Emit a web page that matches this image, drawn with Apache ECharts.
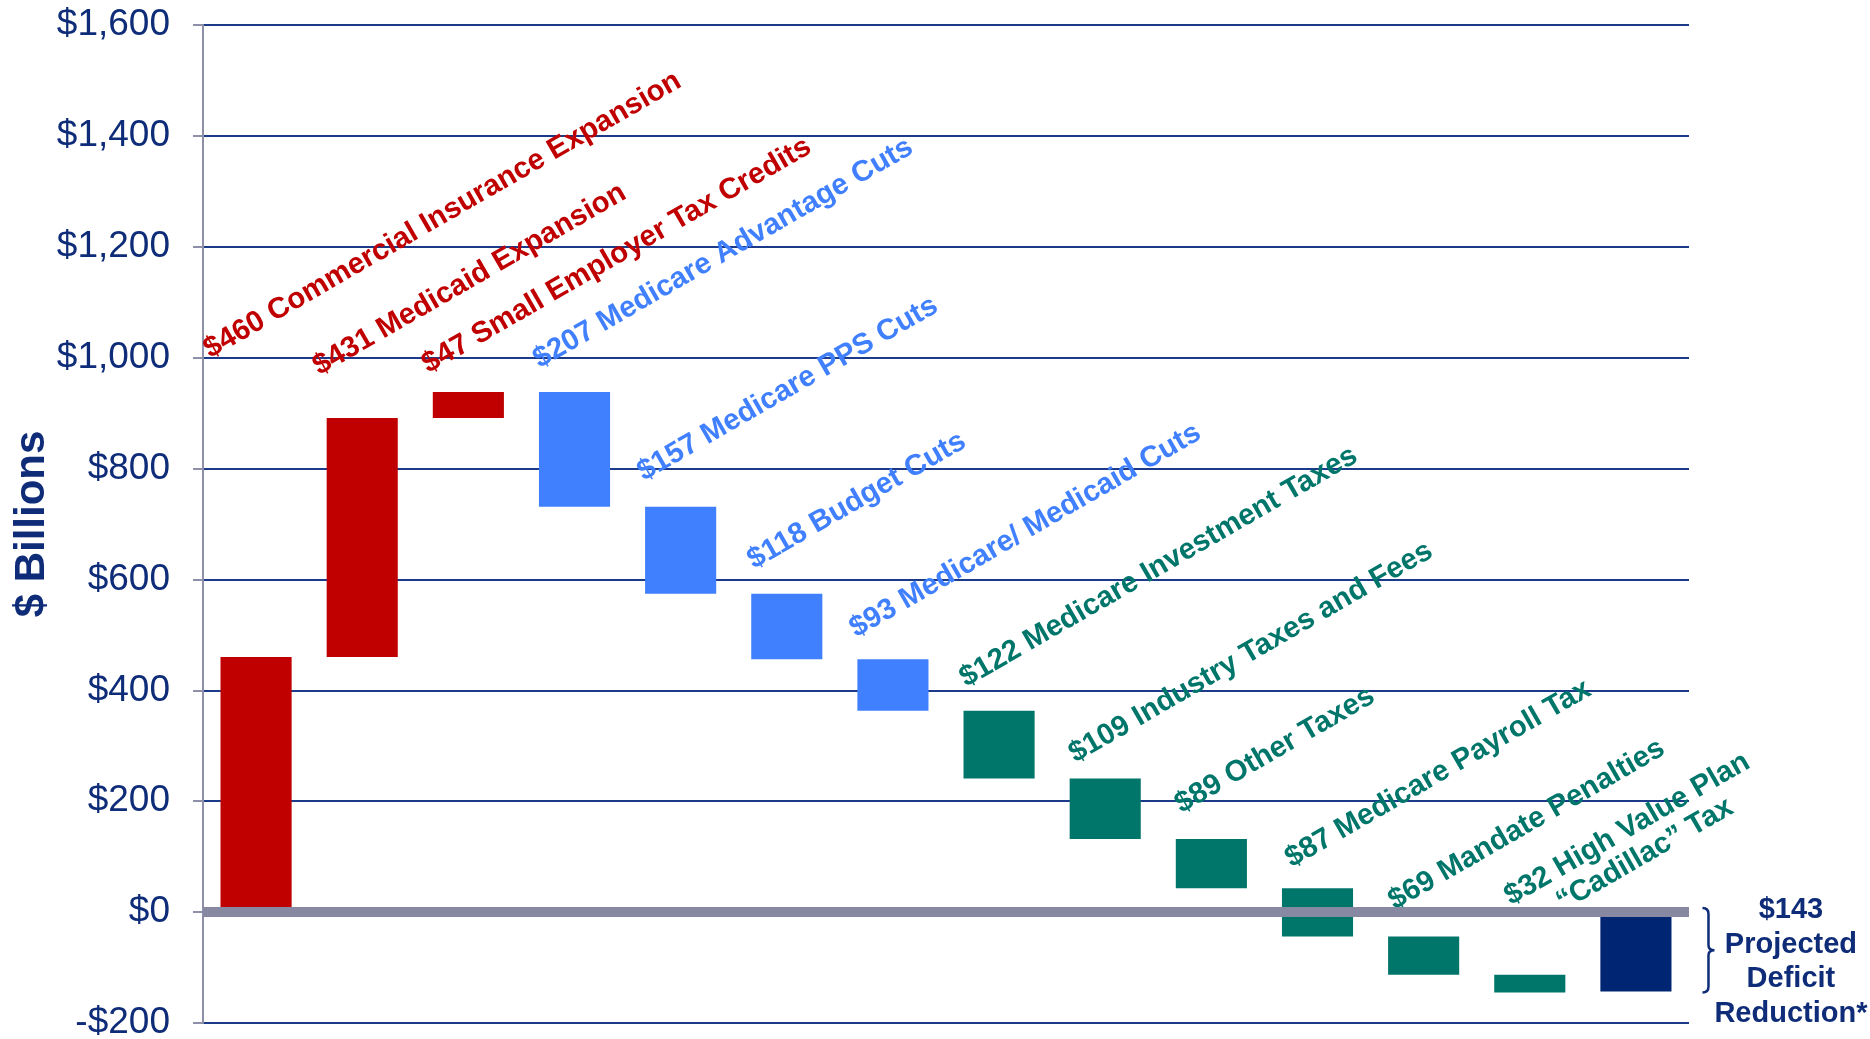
<!DOCTYPE html>
<html>
<head>
<meta charset="utf-8">
<script src="https://cdn.jsdelivr.net/npm/echarts@6/dist/echarts.min.js"></script>
<style>
html,body{margin:0;padding:0;background:#ffffff;}
#chart{width:1870px;height:1039px;}
</style>
</head>
<body>
<div id="chart"></div>
<script>
// ---------------- data ----------------
const categories = [
  'Commercial Insurance Expansion',
  'Medicaid Expansion',
  'Small Employer Tax Credits',
  'Medicare Advantage Cuts',
  'Medicare PPS Cuts',
  'Budget Cuts',
  'Medicare/ Medicaid Cuts',
  'Medicare Investment Taxes',
  'Industry Taxes and Fees',
  'Other Taxes',
  'Medicare Payroll Tax',
  'Mandate Penalties',
  'High Value Plan\n\u201cCadillac\u201d Tax'
];
const changes = [460, 431, 47, -207, -157, -118, -93, -122, -109, -89, -87, -69, -32];
const groups = ['spending', 'spending', 'spending',
                'cuts', 'cuts', 'cuts', 'cuts',
                'taxes', 'taxes', 'taxes', 'taxes', 'taxes', 'taxes'];
const totalLabel = ['Projected', 'Deficit', 'Reduction*'];
const totalValue = -143;
const yTicks = [-200, 0, 200, 400, 600, 800, 1000, 1200, 1400, 1600];

// ---------------- styles ----------------
const groupColors = {spending: '#C00000', cuts: '#4080FF', taxes: '#00766B', total: '#002673'};
const navyText = '#0E2C78';
const FONT = '"Liberation Sans", Arial, Helvetica, sans-serif';
const LABEL_FONT = 'bold 29.4px ' + FONT;
// pixel nudges of each rotated label from its bar's top-left corner
const labelNudge = [[-7, -293], [-4, -37], [-1, -13], [4, -18], [2, -20], [6, -19],
                    [2, -16], [6, -18], [9, -10], [9, -20], [13, -15], [10, -21], [36, -36]];
const labelAngle = 30 * Math.PI / 180;

// ---------------- build rows ----------------
const rows = [];
let running = 0;
changes.forEach((c, i) => {
  const next = running + c;
  rows.push([i, Math.min(running, next), Math.max(running, next), c]);
  running = next;
});
rows.push([changes.length, Math.min(0, totalValue), Math.max(0, totalValue), totalValue]);
const xCats = categories.concat([totalLabel.join(' ')]);

function fmtMoney(v) {
  const s = '$' + Math.abs(v).toLocaleString('en-US');
  return v < 0 ? '-' + s : s;
}

function renderItem(params, api) {
  const i = api.value(0);
  const lo = api.value(1);
  const hi = api.value(2);
  const pTop = api.coord([i, hi]);
  const pBot = api.coord([i, lo]);
  const bw = api.size([1, 0])[0] * 0.67;
  const x = pTop[0] - bw / 2;
  const isTotal = i === changes.length;
  const color = isTotal ? groupColors.total : groupColors[groups[i]];
  const children = [{
    type: 'rect',
    shape: {x: x, y: pTop[1], width: bw, height: pBot[1] - pTop[1]},
    style: {fill: color}
  }];
  if (!isTotal) {
    const nudge = labelNudge[i];
    const lines = categories[i].split('\n');
    const amount = '$' + Math.abs(changes[i]) + ' ';
    let textStyle;
    if (lines.length > 1) {
      textStyle = {
        text: '{a|' + amount + lines[0] + '}\n{b|' + lines[1] + '}',
        rich: {
          a: {fill: color, font: LABEL_FONT, lineHeight: 31},
          b: {fill: color, font: LABEL_FONT, lineHeight: 31, padding: [0, 0, 0, 42]}
        },
        align: 'left', verticalAlign: 'bottom'
      };
    } else {
      textStyle = {
        text: amount + lines[0],
        fill: color, font: LABEL_FONT,
        align: 'left', verticalAlign: 'bottom'
      };
    }
    children.push({
      type: 'text',
      x: x + nudge[0], y: pTop[1] + nudge[1],
      rotation: labelAngle,
      style: textStyle
    });
  } else {
    const xr = x + bw;
    const yt = pTop[1] - 4;
    const yb = pBot[1] + 1;
    const ym = (yt + yb) / 2;
    const x0 = xr + 31, x1 = xr + 37, x2 = xr + 43;
    children.push({
      type: 'path',
      shape: {
        pathData: 'M' + x0 + ' ' + yt + ' Q' + x1 + ' ' + yt + ' ' + x1 + ' ' + (yt + 6) +
          ' L' + x1 + ' ' + (ym - 5) + ' Q' + x1 + ' ' + ym + ' ' + x2 + ' ' + ym +
          ' Q' + x1 + ' ' + ym + ' ' + x1 + ' ' + (ym + 5) +
          ' L' + x1 + ' ' + (yb - 6) + ' Q' + x1 + ' ' + yb + ' ' + x0 + ' ' + yb
      },
      style: {fill: null, stroke: navyText, lineWidth: 2.5}
    });
    children.push({
      type: 'text',
      x: pTop[0] + 155, y: pTop[1] - 19,
      style: {
        text: '$' + Math.abs(totalValue) + '\n' + totalLabel.join('\n'),
        fill: navyText, font: 'bold 29px ' + FONT,
        lineHeight: 34.5, align: 'center', verticalAlign: 'top'
      }
    });
  }
  return {type: 'group', children: children};
}

const chart = echarts.init(document.getElementById('chart'), null, {renderer: 'canvas'});
chart.setOption({
  animation: false,
  backgroundColor: '#ffffff',
  grid: {left: 203, right: 181, top: 25, bottom: 16, outerBoundsMode: 'none', containLabel: false},
  xAxis: {
    type: 'category',
    data: xCats,
    axisLine: {show: false},
    axisTick: {show: false},
    axisLabel: {show: false},
    splitLine: {show: false}
  },
  yAxis: {
    type: 'value',
    min: yTicks[0],
    max: yTicks[yTicks.length - 1],
    interval: yTicks[1] - yTicks[0],
    name: '$ Billions',
    nameLocation: 'middle',
    nameRotate: 90,
    nameGap: 150,
    nameMoveOverlap: false,
    nameTextStyle: {color: navyText, fontSize: 42, fontWeight: 'bold', fontFamily: FONT},
    axisLine: {show: true, lineStyle: {color: '#8E90AA', width: 2}},
    axisTick: {show: true, length: 10, lineStyle: {color: '#8E90AA', width: 2}},
    axisLabel: {
      color: navyText, fontSize: 37, fontFamily: FONT, margin: 33,
      formatter: fmtMoney
    },
    splitLine: {show: true, lineStyle: {color: '#1B3A8A', width: 2.2}}
  },
  series: [{
    type: 'custom',
    clip: false,
    renderItem: renderItem,
    encode: {x: 0, y: [1, 2]},
    data: rows,
    markLine: {
      silent: true,
      symbol: 'none',
      label: {show: false},
      lineStyle: {color: '#8789A3', width: 10, type: 'solid'},
      data: [{yAxis: 0}]
    }
  }]
});
</script>
</body>
</html>
